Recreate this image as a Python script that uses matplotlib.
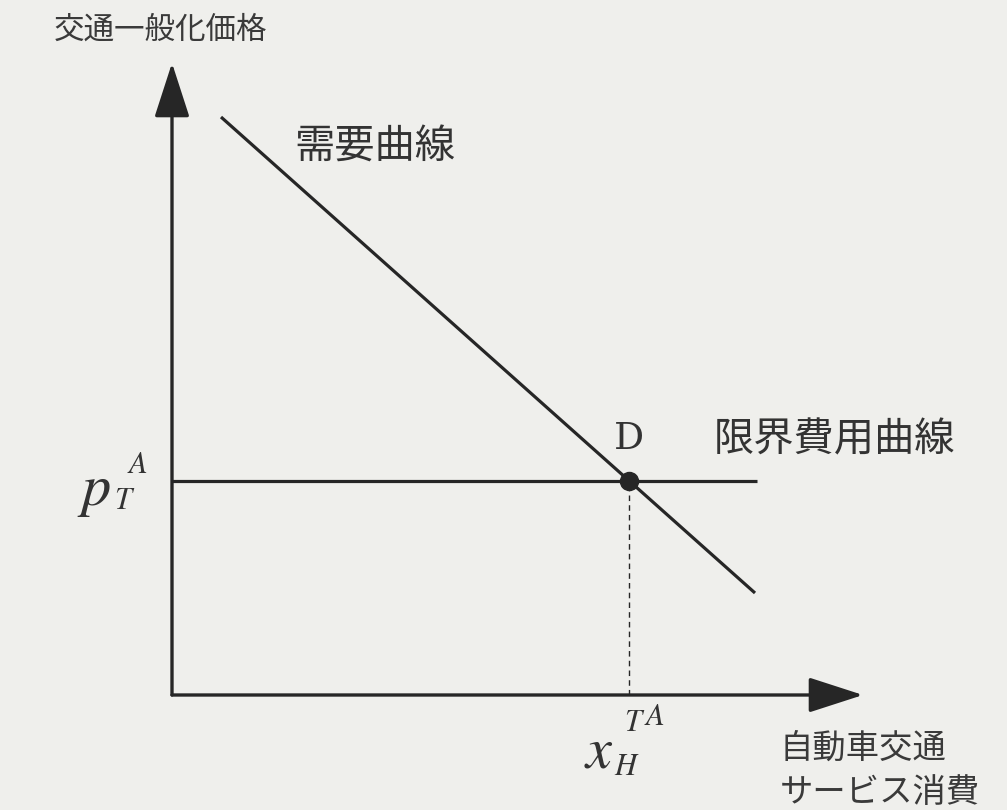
import matplotlib.pyplot as plt
import numpy as np

plt.rcParams['font.family'] = ['Noto Sans CJK JP', 'DejaVu Sans']
plt.rcParams['mathtext.fontset'] = 'stix'

# data units: origin of the diagram at (0, 0)
demand_q = [49, 583]
demand_p = [578, 102]
mc_q = [0, 585]
mc_p = [214, 214]

x_label = '自動車交通\nサービス消費'
y_label = '交通一般化価格'
demand_label = '需要曲線'
mc_label = '限界費用曲線'

# equilibrium point D
slope = (demand_p[1] - demand_p[0]) / (demand_q[1] - demand_q[0])
q_eq = demand_q[0] + (mc_p[0] - demand_p[0]) / slope
p_eq = mc_p[0]

ink = '#262626'
bg = '#efefec'

fig = plt.figure(figsize=(10.07, 8.10), dpi=100, facecolor=bg)
ax = fig.add_axes([0, 0, 1, 1])
ax.set_facecolor(bg)
ax.set_xlim(-172, 835)
ax.set_ylim(-115, 695)
ax.axis('off')

# axes with arrows
arrow = dict(arrowstyle='-|>,head_length=1.7,head_width=0.55',
             mutation_scale=20, lw=2.4, color=ink, shrinkA=0, shrinkB=0)
ax.annotate('', xy=(0, 632), xytext=(0, 0), arrowprops=arrow)
ax.annotate('', xy=(691, 0), xytext=(0, 0), arrowprops=arrow)

ax.plot(demand_q, demand_p, color=ink, lw=2.3, solid_capstyle='butt')
ax.plot(mc_q, mc_p, color=ink, lw=2.3, solid_capstyle='butt')
ax.plot([q_eq, q_eq], [0, p_eq], color=ink, lw=1.0, ls=(0, (4, 3)))
ax.plot(q_eq, p_eq, 'o', color=ink, ms=13, zorder=5)

# labels
ax.text(-118, 665, y_label, fontsize=22, color='#3a3a3a', ha='left', va='center')
ax.text(122, 548, demand_label, fontsize=29, color='#333333', ha='left', va='center')
ax.text(542, 255, mc_label, fontsize=29, color='#333333', ha='left', va='center')
ax.text(q_eq, 256, 'D', fontsize=27, color='#333333', ha='center', va='center',
        family='DejaVu Serif')
ax.text(608, -75, x_label, fontsize=24, color='#3a3a3a', ha='left', va='center',
        linespacing=1.35)

serif = dict(color='#333333', ha='left', va='baseline')
ax.text(-95, 190, '$p$', fontsize=42, **serif)
ax.text(-58, 186, '$T$', fontsize=22, **serif)
ax.text(-45, 222, '$A$', fontsize=22, **serif)
ax.text(412, -72, '$x$', fontsize=42, **serif)
ax.text(442, -80, '$H$', fontsize=22, **serif)
ax.text(452, -36, '$T$', fontsize=22, **serif)
ax.text(472, -30, '$A$', fontsize=22, **serif)

fig.savefig('out.png', dpi=100, facecolor=bg)
